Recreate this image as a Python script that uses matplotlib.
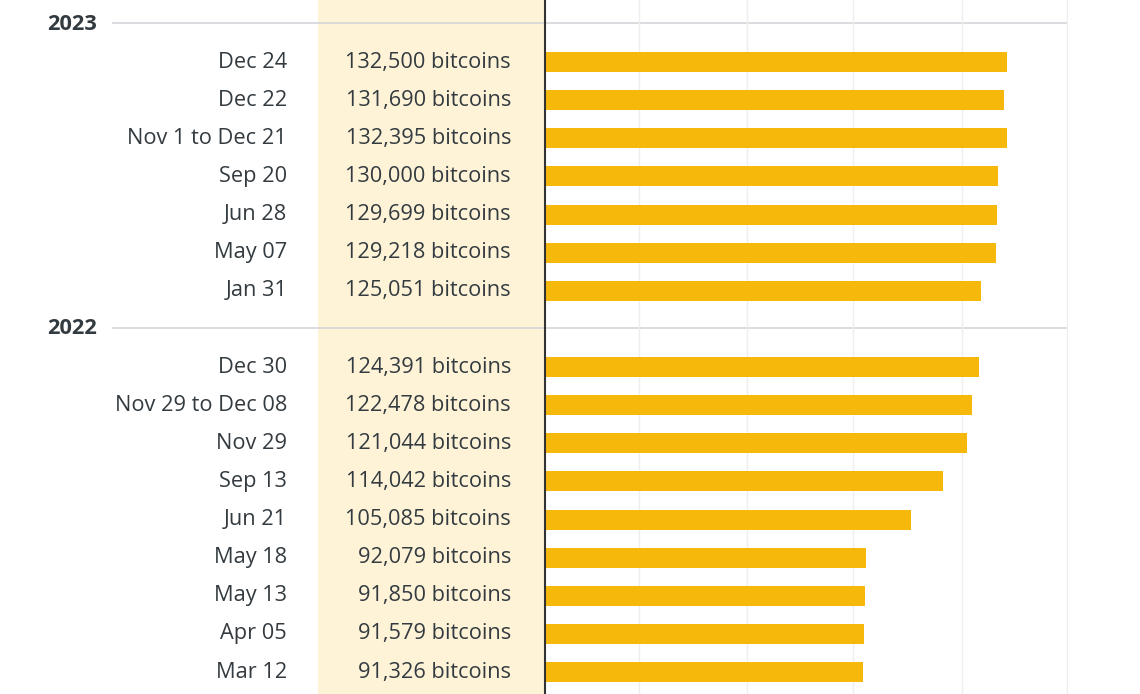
import matplotlib
matplotlib.use("Agg")
import matplotlib.pyplot as plt

# data
years = ["2023", "2022"]
labels_2023 = ["Dec 24", "Dec 22", "Nov 1 to Dec 21", "Sep 20", "Jun 28", "May 07", "Jan 31"]
values_2023 = [132500, 131690, 132395, 130000, 129699, 129218, 125051]
labels_2022 = ["Dec 30", "Nov 29 to Dec 08", "Nov 29", "Sep 13", "Jun 21",
               "May 18", "May 13", "Apr 05", "Mar 12"]
values_2022 = [124391, 122478, 121044, 114042, 105085, 92079, 91850, 91579, 91326]
grid_values = [27000, 57800, 88400, 119600, 149700]

groups = [(years[0], labels_2023, values_2023), (years[1], labels_2022, values_2022)]

BAR = "#F5B80B"
TEXT = "#333B40"
BAND = "#FEF3D7"

plt.rcParams["font.family"] = ["Open Sans", "DejaVu Sans"]

W, H = 1140, 694
fig = plt.figure(figsize=(W / 100, H / 100), dpi=100)
fig.patch.set_facecolor("white")

slot = 38.12
top = -24 / slot
bottom = (H - 24) / slot

bg = fig.add_axes([0, 0, 1, 1])
bg.set_xlim(0, W)
bg.set_ylim(bottom, top)
bg.axis("off")
bg.axvspan(318, 545, color=BAND, zorder=0, lw=0)

ax = fig.add_axes([545 / W, 0, 523 / W, 1])
ax.set_facecolor("none")
ax.set_xlim(0, 150000)
ax.set_ylim(bottom, top)
for g in grid_values:
    ax.axvline(g, color="#EEEEEE", lw=1, zorder=0)
for s in ["top", "right", "bottom"]:
    ax.spines[s].set_visible(False)
ax.spines["left"].set_color("#333333")
ax.spines["left"].set_linewidth(1.5)
ax.spines["left"].set_zorder(5)
ax.set_xticks([])
ax.set_yticks([])

pos = 0
for year, labs, vals in groups:
    bg.text(97, pos, year, ha="right", va="center", fontsize=15.7,
            fontweight="bold", color=TEXT)
    bg.plot([113, 1067], [pos - 0.035, pos - 0.035], color="#D3D6D9", lw=1.2, zorder=2)
    pos += 1
    ys = list(range(pos, pos + len(vals)))
    ax.barh(ys, vals, height=0.525, color=BAR, zorder=2)
    for y, lab, v in zip(ys, labs, vals):
        bg.text(287, y, lab, ha="right", va="center", fontsize=15.7, color=TEXT)
        bg.text(511, y, f"{v:,} bitcoins", ha="right", va="center",
                fontsize=15.7, color=TEXT)
    pos += len(vals)

fig.savefig("out.png", dpi=100)
